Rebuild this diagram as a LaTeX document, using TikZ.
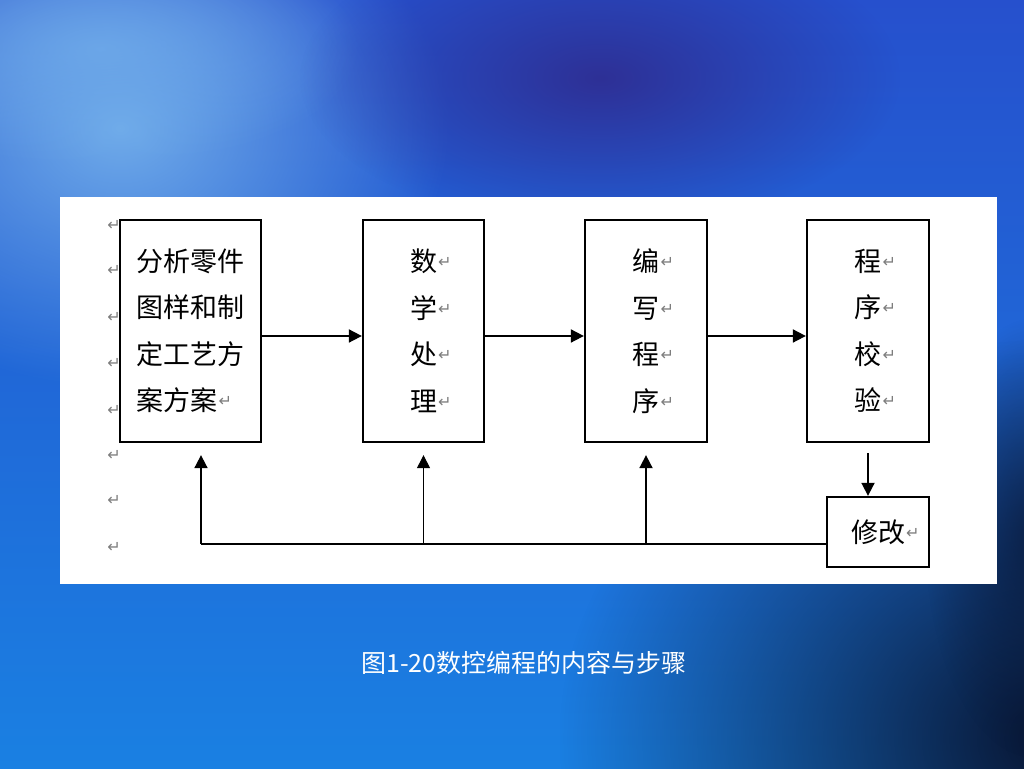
\documentclass[tikz,border=0pt]{standalone}
\usepackage{fontspec}
\setmainfont{Noto Sans CJK SC}
\newfontfamily\symfont{DejaVu Sans}
\usetikzlibrary{arrows.meta, positioning, calc, fadings}
\definecolor{bgtop}{RGB}{38, 80, 205}
\definecolor{bgbottom}{RGB}{26, 128, 226}
\definecolor{sky}{RGB}{112, 172, 234}
\definecolor{dusk}{RGB}{46, 48, 150}
\definecolor{navy}{RGB}{8, 18, 45}
\definecolor{mark}{RGB}{125, 125, 125}
\tikzfading[name=glow, inner color=transparent!0, outer color=transparent!100]
\newcommand{\rmark}{\rlap{\kern1pt\raisebox{4pt}{\textcolor{mark}{\symfont\fontsize{16}{16}\selectfont ↵}}}}
\tikzset{
  stepbox/.style={draw, line width=2.3pt, minimum height=222pt, inner sep=0pt},
  flow/.style={line width=1.8pt, -{Triangle[length=13pt, width=13pt]}},
  back/.style={line width=2.3pt}
}

\begin{document}
\begin{tikzpicture}[x=1pt, y=1pt]
  \useasboundingbox (0, 0) rectangle (1024, 768);
  % background
  \shade[top color=bgtop, bottom color=bgbottom] (0, 0) rectangle (1024, 768);
  \fill[sky, path fading=glow] (120, 640) ellipse (330 and 260);
  \fill[sky, path fading=glow, opacity=0.8] (100, 720) ellipse (260 and 120);
  \fill[dusk, path fading=glow] (600, 690) ellipse (300 and 150);
  \fill[navy, path fading=glow] (1060, 30) ellipse (500 and 400);
  \fill[navy, path fading=glow, opacity=0.7] (1035, 230) ellipse (110 and 220);
  \fill[white] (60, 184) rectangle (997, 571);
  % boxes
  \node[stepbox, minimum width=141pt, align=left, font=\fontsize{27}{46.5}\selectfont] (plan) at (190.5, 437)
    {分析零件\\图样和制\\定工艺方\\案方案\rmark};
  \node[stepbox, minimum width=121pt, align=center, font=\fontsize{27}{46.5}\selectfont] (calc) at (423.5, 437)
    {数\rmark\\学\rmark\\处\rmark\\理\rmark};
  \node[stepbox, minimum width=122pt, align=center, font=\fontsize{27}{46.5}\selectfont] (code) at (646, 437)
    {编\rmark\\写\rmark\\程\rmark\\序\rmark};
  \node[stepbox, minimum width=122pt, align=center, font=\fontsize{27}{46.5}\selectfont] (check) at (868, 437)
    {程\rmark\\序\rmark\\校\rmark\\验\rmark};
  \node[draw, line width=2.3pt, minimum width=102pt, minimum height=70pt, font=\fontsize{27}{30}\selectfont] (fix) at (878, 236)
    {修改\rmark};
  % empty paragraph marks
  \foreach \i/\y in {1/543, 2/498, 3/451, 4/405, 5/358, 6/313, 7/268, 8/221}
    \node[text=mark, font=\symfont\fontsize{16}{16}\selectfont, inner sep=0pt] (m\i) at (114, \y) {↵};
  % forward arrows
  \draw[flow] ([yshift=-5pt]plan.east) -- ([yshift=-5pt]calc.west);
  \draw[flow] ([yshift=-5pt]calc.east) -- ([yshift=-5pt]code.west);
  \draw[flow] ([yshift=-5pt]code.east) -- ([yshift=-5pt]check.west);
  \draw[flow] ([yshift=-10pt]check.south) -- (check.south |- fix.north);
  % feedback
  \coordinate (j0) at ([yshift=-12pt]fix.west);
  \coordinate (j1) at ([xshift=10.5pt]plan.south |- j0);
  \coordinate (j2) at (calc.south |- j0);
  \coordinate (j3) at (code.south |- j0);
  \draw[back] (j0) -- (j1);
  \draw[flow] (j1) -- ([yshift=-12pt]j1 |- plan.south);
  \draw[flow, line width=1pt] (j2) -- ([yshift=-12pt]calc.south);
  \draw[flow] (j3) -- ([yshift=-12pt]code.south);
  % caption
  \node[text=white, font=\fontsize{25}{25}\selectfont] (cap) at (524, 105) {图1-20数控编程的内容与步骤};
\end{tikzpicture}
\end{document}
